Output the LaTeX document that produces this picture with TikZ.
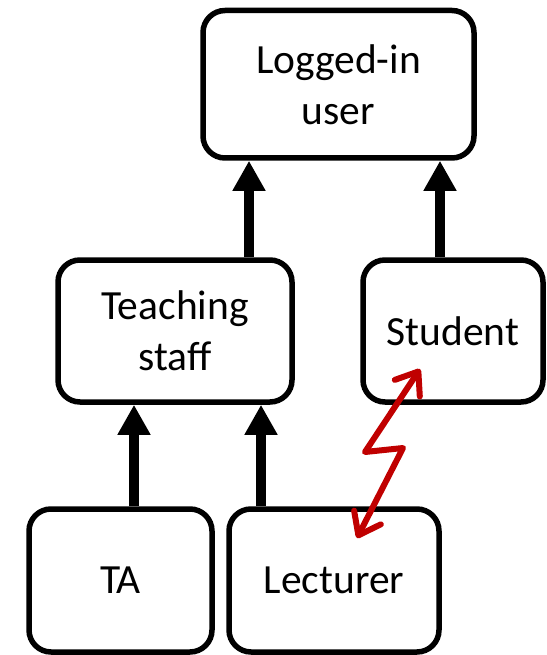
\documentclass[tikz,border=0pt]{standalone}
\usepackage{fontspec}
\setmainfont{Carlito}
\usetikzlibrary{arrows.meta}
\definecolor{zigred}{HTML}{C00000}
\tikzset{
  ubox/.style={draw, line width=5.5pt, rounded corners=22pt, inner sep=0pt, align=center,
    font=\fontsize{41.5pt}{51pt}\selectfont},
  uarrow/.style={line width=10pt, -{Triangle[width=31pt,length=30pt]}},
  zig/.style={draw=zigred, line width=6pt, line join=round, line cap=round,
    {Straight Barb[length=20pt,width=30pt,line cap=round,line join=round]}-{Straight Barb[length=20pt,width=30pt,line cap=round,line join=round]}}
}
\begin{document}
\begin{tikzpicture}[x=1pt,y=-1pt]
\useasboundingbox (0,0) rectangle (546,655);
\node[ubox, minimum width=271pt, minimum height=147.5pt] (lu) at (338.5,84.25) {Logged-in\\user};
\node[ubox, minimum width=234pt, minimum height=142pt] (ts) at (175,331) {Teaching\\staff};
\node[ubox, minimum width=180pt, minimum height=142pt] (st) at (453,331) {Student};
\node[ubox, minimum width=183pt, minimum height=143pt] (ta) at (120.5,580.5) {TA};
\node[ubox, minimum width=210pt, minimum height=143pt] (le) at (334,580.5) {Lecturer};
\draw[uarrow] ([xshift=74pt]ts.north) -- ([xshift=-89.5pt]lu.south);
\draw[uarrow] ([xshift=-13pt]st.north) -- ([xshift=101.5pt]lu.south);
\draw[uarrow] ([xshift=13.5pt]ta.north) -- ([xshift=-41pt]ts.south);
\draw[uarrow] ([xshift=-73pt]le.north) -- ([xshift=86pt]ts.south);
\coordinate (rtop) at (420,369);
\coordinate (ra) at (365,452);
\coordinate (rb) at (403,448);
\coordinate (rbot) at (357,538);
\draw[zig] (rtop) -- (ra) -- (rb) -- (rbot);
\end{tikzpicture}
\end{document}
